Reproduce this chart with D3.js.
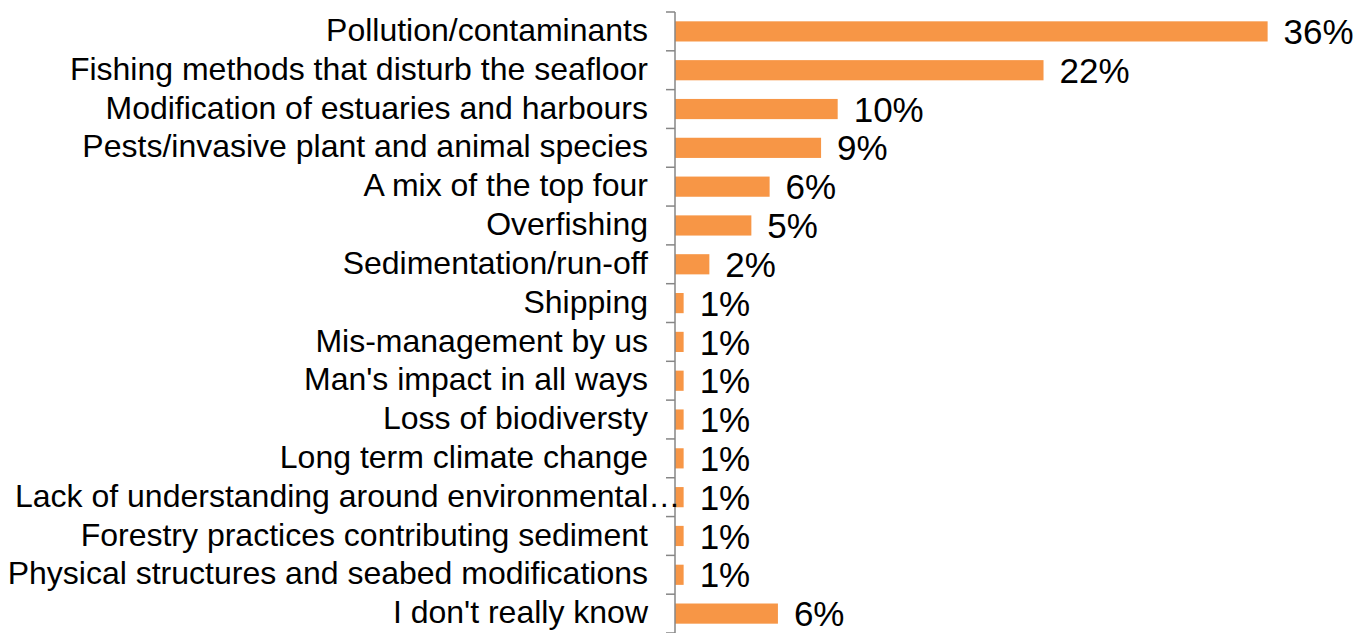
<!DOCTYPE html>
<html>
<head>
<meta charset="utf-8">
<script src="https://cdn.jsdelivr.net/npm/d3@7"></script>
<style>
html,body{margin:0;padding:0;background:#fff;}
svg{display:block;}
</style>
</head>
<body>
<svg id="chart" width="1363" height="633"></svg>
<script>
const categories = [
  "Pollution/contaminants",
  "Fishing methods that disturb the seafloor",
  "Modification of estuaries and harbours",
  "Pests/invasive plant and animal species",
  "A mix of the top four",
  "Overfishing",
  "Sedimentation/run-off",
  "Shipping",
  "Mis-management by us",
  "Man's impact in all ways",
  "Loss of biodiversty",
  "Long term climate change",
  "Lack of understanding around environmental\u2026",
  "Forestry practices contributing sediment",
  "Physical structures and seabed modifications",
  "I don't really know"
];
const values = [35.7, 22.2, 9.8, 8.8, 5.7, 4.6, 2.07, 0.52, 0.52, 0.52, 0.52, 0.52, 0.52, 0.52, 0.52, 6.2];
const valueLabels = ["36%","22%","10%","9%","6%","5%","2%","1%","1%","1%","1%","1%","1%","1%","1%","6%"];

const svg = d3.select("#chart");
const x0 = 675, plotTop = 12, plotBottom = 633;
const x = d3.scaleLinear().domain([0, 40]).range([x0, x0 + 16.6 * 40]);
const y = d3.scaleBand().domain(categories).range([plotTop, plotBottom]).paddingInner(0.48).paddingOuter(0.24);

const data = categories.map((c, i) => ({c, v: values[i], l: valueLabels[i]}));

svg.append("g").selectAll("rect").data(data).enter().append("rect")
  .attr("x", x(0))
  .attr("y", d => y(d.c))
  .attr("width", d => x(d.v) - x(0))
  .attr("height", y.bandwidth())
  .attr("fill", "#F79646");

// axis with ticks at category boundaries
const axisG = svg.append("g");
axisG.append("line")
  .attr("x1", x0).attr("x2", x0)
  .attr("y1", plotTop).attr("y2", plotBottom)
  .attr("stroke", "#868686").attr("stroke-width", 1.5);
const boundaries = d3.range(categories.length + 1).map(i => plotTop + i * (plotBottom - plotTop) / categories.length);
axisG.selectAll("line.tick").data(boundaries).enter().append("line")
  .attr("class", "tick")
  .attr("x1", x0 - 9).attr("x2", x0)
  .attr("y1", d => d).attr("y2", d => d)
  .attr("stroke", "#868686").attr("stroke-width", 1.5);

// category labels
const labelRight = 648, overflowStart = 15;
svg.append("g").selectAll("text").data(data).enter().append("text")
  .attr("x", labelRight)
  .attr("y", d => y(d.c) + y.bandwidth() / 2)
  .attr("dy", "0.3em")
  .attr("text-anchor", "end")
  .attr("font-family", "Liberation Sans, Arial, sans-serif")
  .attr("font-size", 32)
  .attr("fill", "#000")
  .text(d => d.c)
  .each(function() {
    const w = this.getComputedTextLength();
    if (w > labelRight) {
      d3.select(this).attr("text-anchor", "start").attr("x", overflowStart);
    }
  });

// value labels
svg.append("g").selectAll("text").data(data).enter().append("text")
  .attr("x", d => x(d.v) + 16)
  .attr("y", d => y(d.c) + y.bandwidth() / 2)
  .attr("dy", "0.36em")
  .attr("font-family", "Liberation Sans, Arial, sans-serif")
  .attr("font-size", 35)
  .attr("fill", "#000")
  .text(d => d.l);
</script>
</body>
</html>
